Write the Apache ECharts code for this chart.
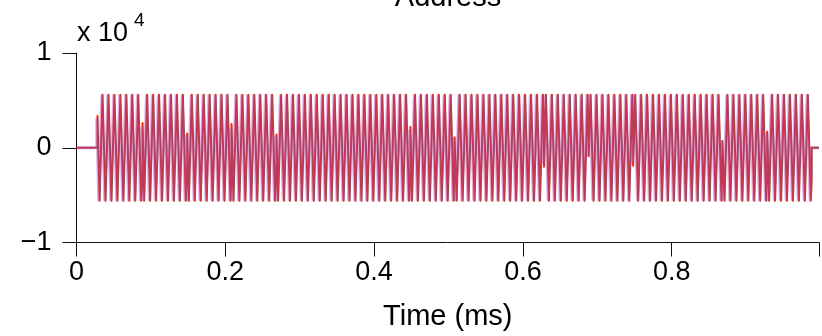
<!DOCTYPE html>
<html><head><meta charset="utf-8">
<script src="https://cdn.jsdelivr.net/npm/echarts@6/dist/echarts.min.js"></script>
<style>html,body{margin:0;padding:0;background:#fff}#c{width:822px;height:336px}</style>
</head><body><div id="c"></div>
<script>
// ---- data (time in ms, value in raw units; axis shows x 10^4) ----
const xTicks = [0, 0.2, 0.4, 0.6, 0.8];
const yTicks = [-10000, 0, 10000];

// red trace: extrema times (one row per 0.06 ms symbol)
const redExtT = [
0.031,0.035,0.039,0.043,0.047,0.051,0.055,0.059,0.063,0.067,0.071,0.075,0.079,0.083,0.087,
0.091,0.095,0.099,0.103,0.107,0.111,0.115,0.119,0.123,0.127,0.131,0.135,0.139,0.143,0.147,
0.151,0.155,0.159,0.163,0.167,0.171,0.175,0.179,0.183,0.187,0.191,0.195,0.199,0.203,0.207,
0.211,0.215,0.219,0.223,0.227,0.231,0.235,0.239,0.243,0.247,0.251,0.255,0.259,0.263,0.267,
0.271,0.275,0.279,0.283,0.287,0.291,0.295,0.299,0.303,0.307,0.311,0.315,0.319,0.323,0.327,
0.331,0.335,0.339,0.343,0.347,0.351,0.355,0.359,0.363,0.367,0.371,0.375,0.379,0.383,0.387,
0.391,0.395,0.399,0.403,0.407,0.411,0.415,0.419,0.423,0.427,0.431,0.435,0.439,0.443,0.447,
0.451,0.455,0.459,0.463,0.467,0.471,0.475,0.479,0.483,0.487,0.491,0.495,0.499,0.503,0.507,
0.511,0.515,0.519,0.523,0.527,0.531,0.535,0.539,0.543,0.547,0.551,0.555,0.559,0.563,0.567,
0.571,0.575,0.579,0.583,0.587,0.591,0.595,0.599,0.603,0.607,0.611,0.615,0.619,0.623,0.627,
0.631,0.635,0.639,0.643,0.647,0.651,0.655,0.659,0.663,0.667,0.671,0.675,0.679,0.683,0.687,
0.691,0.695,0.699,0.703,0.707,0.711,0.715,0.719,0.723,0.727,0.731,0.735,0.739,0.743,0.747,
0.751,0.755,0.759,0.763,0.767,0.771,0.775,0.779,0.783,0.787,0.791,0.795,0.799,0.803,0.807,
0.811,0.815,0.819,0.823,0.827,0.831,0.835,0.839,0.843,0.847,0.851,0.855,0.859,0.863,0.867,
0.871,0.875,0.879,0.883,0.887,0.891,0.895,0.899,0.903,0.907,0.911,0.915,0.919,0.923,0.927,
0.931,0.935,0.939,0.943,0.947,0.951,0.955,0.959,0.963,0.967,0.971,0.975,0.979,0.983,0.987
];
const redExtV = [
-5600,5600,-5600,5600,-5600,5600,-5600,5600,-5600,5600,-5600,5600,-5600,5600,-5600,
-5600,5600,-5600,5600,-5600,5600,-5600,5600,-5600,5600,-5600,5600,-5600,5600,-5600,
-5600,5600,-5600,5600,-5600,5600,-5600,5600,-5600,5600,-5600,5600,-5600,5600,-5600,
-5600,5600,-5600,5600,-5600,5600,-5600,5600,-5600,5600,-5600,5600,-5600,5600,-5600,
-5600,5600,-5600,5600,-5600,5600,-5600,5600,-5600,5600,-5600,5600,-5600,5600,-5600,
5600,-5600,5600,-5600,5600,-5600,5600,-5600,5600,-5600,5600,-5600,5600,-5600,5600,
-5600,5600,-5600,5600,-5600,5600,-5600,5600,-5600,5600,-5600,5600,-5600,5600,-5600,
-5600,5600,-5600,5600,-5600,5600,-5600,5600,-5600,5600,-5600,5600,-5600,5600,-5600,
-5600,5600,-5600,5600,-5600,5600,-5600,5600,-5600,5600,-5600,5600,-5600,5600,-5600,
5600,-5600,5600,-5600,5600,-5600,5600,-5600,5600,-5600,5600,-5600,5600,-5600,5600,
5600,-5600,5600,-5600,5600,-5600,5600,-5600,5600,-5600,5600,-5600,5600,-5600,5600,
5600,-5600,5600,-5600,5600,-5600,5600,-5600,5600,-5600,5600,-5600,5600,-5600,5600,
5600,-5600,5600,-5600,5600,-5600,5600,-5600,5600,-5600,5600,-5600,5600,-5600,5600,
-5600,5600,-5600,5600,-5600,5600,-5600,5600,-5600,5600,-5600,5600,-5600,5600,-5600,
-5600,5600,-5600,5600,-5600,5600,-5600,5600,-5600,5600,-5600,5600,-5600,5600,-5600,
-5600,5600,-5600,5600,-5600,5600,-5600,5600,-5600,5600,-5600,5600,-5600,5600,-5600
];
// red phase jumps at symbol boundaries: time, value before, value after
const redJumpT    = [0.0888, 0.1488, 0.2084, 0.2688, 0.4488, 0.5082, 0.6284, 0.6884, 0.7482, 0.8682, 0.9284];
const redJumpPre  = [-2600, -1500, -2500, -1400, -2200, -1100,  2000,   900,  1900,  -700, -1700];
const redJumpPost = [ 2600,  1500,  2500,  1400,  2200,  1100, -2000,  -900, -1900,   700,  1700];
// red lead-in and tail (flat zero outside the burst)
const redLeadT = [0, 0.0282, 0.0282];
const redLeadV = [0, 0, 3350];
const redTailT = [0.9882, 0.9882, 0.998];
const redTailV = [-3300, 0, 0];

// blue (translucent) trace: extrema times and values
const blueExtT = [
0.030,0.034,0.038,0.042,0.046,0.050,0.054,0.058,0.062,0.066,0.070,0.074,0.078,0.082,0.086,
0.090,0.094,0.098,0.102,0.106,0.110,0.114,0.118,0.122,0.126,0.130,0.134,0.138,0.142,0.146,
0.150,0.154,0.158,0.162,0.166,0.170,0.174,0.178,0.182,0.186,0.190,0.194,0.198,0.202,0.206,
0.210,0.214,0.218,0.222,0.226,0.230,0.234,0.238,0.242,0.246,0.250,0.254,0.258,0.262,0.266,
0.270,0.274,0.278,0.282,0.286,0.290,0.294,0.298,0.302,0.306,0.310,0.314,0.318,0.322,0.326,
0.330,0.334,0.338,0.342,0.346,0.350,0.354,0.358,0.362,0.366,0.370,0.374,0.378,0.382,0.386,
0.390,0.394,0.398,0.402,0.406,0.410,0.414,0.418,0.422,0.426,0.430,0.434,0.438,0.442,0.446,
0.450,0.454,0.458,0.462,0.466,0.470,0.474,0.478,0.482,0.486,0.490,0.494,0.498,0.502,0.506,
0.510,0.514,0.518,0.522,0.526,0.530,0.534,0.538,0.542,0.546,0.550,0.554,0.558,0.562,0.566,
0.570,0.574,0.578,0.582,0.586,0.590,0.594,0.598,0.602,0.606,0.610,0.614,0.618,0.622,0.626,
0.630,0.634,0.638,0.642,0.646,0.650,0.654,0.658,0.662,0.666,0.670,0.674,0.678,0.682,0.686,
0.690,0.694,0.698,0.702,0.706,0.710,0.714,0.718,0.722,0.726,0.730,0.734,0.738,0.742,0.746,
0.750,0.754,0.758,0.762,0.766,0.770,0.774,0.778,0.782,0.786,0.790,0.794,0.798,0.802,0.806,
0.810,0.814,0.818,0.822,0.826,0.830,0.834,0.838,0.842,0.846,0.850,0.854,0.858,0.862,0.866,
0.870,0.874,0.878,0.882,0.886,0.890,0.894,0.898,0.902,0.906,0.910,0.914,0.918,0.922,0.926,
0.930,0.934,0.938,0.942,0.946,0.950,0.954,0.958,0.962,0.966,0.970,0.974,0.978,0.982,0.986
];
const blueExtV = [
-5500,5500,-5500,5500,-5500,5500,-5500,5500,-5500,5500,-5500,5500,-5500,5500,-5500,
-5500,5500,-5500,5500,-5500,5500,-5500,5500,-5500,5500,-5500,5500,-5500,5500,-5500,
-5500,5500,-5500,5500,-5500,5500,-5500,5500,-5500,5500,-5500,5500,-5500,5500,-5500,
-5500,5500,-5500,5500,-5500,5500,-5500,5500,-5500,5500,-5500,5500,-5500,5500,-5500,
-5500,5500,-5500,5500,-5500,5500,-5500,5500,-5500,5500,-5500,5500,-5500,5500,-5500,
5500,-5500,5500,-5500,5500,-5500,5500,-5500,5500,-5500,5500,-5500,5500,-5500,5500,
-5500,5500,-5500,5500,-5500,5500,-5500,5500,-5500,5500,-5500,5500,-5500,5500,-5500,
-5500,5500,-5500,5500,-5500,5500,-5500,5500,-5500,5500,-5500,5500,-5500,5500,-5500,
-5500,5500,-5500,5500,-5500,5500,-5500,5500,-5500,5500,-5500,5500,-5500,5500,-5500,
5500,-5500,5500,-5500,5500,-5500,5500,-5500,5500,-5500,5500,-5500,5500,-5500,5500,
5500,-5500,5500,-5500,5500,-5500,5500,-5500,5500,-5500,5500,-5500,5500,-5500,5500,
5500,-5500,5500,-5500,5500,-5500,5500,-5500,5500,-5500,5500,-5500,5500,-5500,5500,
5500,-5500,5500,-5500,5500,-5500,5500,-5500,5500,-5500,5500,-5500,5500,-5500,5500,
-5500,5500,-5500,5500,-5500,5500,-5500,5500,-5500,5500,-5500,5500,-5500,5500,-5500,
-5500,5500,-5500,5500,-5500,5500,-5500,5500,-5500,5500,-5500,5500,-5500,5500,-5500,
-5500,5500,-5500,5500,-5500,5500,-5500,5500,-5500,5500,-5500,5500,-5500,5500,-5500
];
const blueMidT = [0.0878, 0.1478, 0.2074, 0.2678, 0.4478, 0.5072, 0.6274, 0.6874, 0.7472, 0.8672, 0.9274];
const blueMidV = [ 2100,   1200,   2000,   1100,   1800,    900,  -1600,   -700,  -1500,    600,   1400];
const blueLeadT = [0, 0.0272, 0.0272];
const blueLeadV = [0, 0, 3000];
const blueTailT = [0.9872, 0.9872, 0.998];
const blueTailV = [-3000, 0, 0];

// ---- assemble point lists (stable sort keeps equal-time pairs in order) ----
function zip(t, v) { return t.map((x, i) => [x, v[i]]); }
const redPts = [].concat(
  zip(redLeadT, redLeadV),
  zip(redExtT, redExtV),
  [].concat(...redJumpT.map((t, i) => [[t, redJumpPre[i]], [t, redJumpPost[i]]])),
  zip(redTailT, redTailV)
).sort((a, b) => a[0] - b[0]);
const bluePts = [].concat(
  zip(blueLeadT, blueLeadV),
  zip(blueExtT, blueExtV),
  zip(blueMidT, blueMidV),
  zip(blueTailT, blueTailV)
).sort((a, b) => a[0] - b[0]);

const FONT = "'Liberation Sans', Arial, Helvetica, sans-serif";
const chart = echarts.init(document.getElementById('c'), null, {renderer: 'canvas'});
chart.setOption({
  animation: false,
  backgroundColor: '#fff',
  grid: {left: 76.5, top: 53, width: 743.5, height: 192, containLabel: false},
  xAxis: {
    type: 'value', min: 0, max: 0.998, interval: 0.2,
    axisLine: {onZero: false, lineStyle: {color: '#111', width: 1}},
    axisTick: {length: 14, inside: false, lineStyle: {color: '#111', width: 1}},
    splitLine: {show: false},
    axisLabel: {fontSize: 27, color: '#000', fontFamily: FONT, margin: 17,
      formatter: v => xTicks.indexOf(Math.round(v * 10) / 10) >= 0 ? String(Math.round(v * 10) / 10) : ''},
    name: 'Time (ms)', nameLocation: 'middle', nameGap: 74,
    nameTextStyle: {fontSize: 29, color: '#000', fontFamily: FONT, verticalAlign: 'middle'}
  },
  yAxis: {
    type: 'value', min: yTicks[0], max: yTicks[2], interval: 10000,
    axisLine: {onZero: false, lineStyle: {color: '#111', width: 1}},
    axisTick: {length: 14, inside: false, lineStyle: {color: '#111', width: 1}},
    splitLine: {show: false},
    axisLabel: {fontSize: 27, color: '#000', fontFamily: FONT, margin: 25,
      formatter: v => v < 0 ? '\u2212' + (-v / 10000) : String(v / 10000)}
  },
  graphic: [
    {type: 'text', x: 448, y: -2, style: {text: 'Address', font: '29px ' + FONT, fill: '#000', textAlign: 'center', textVerticalAlign: 'middle'}},
    {type: 'text', x: 77, y: 34, style: {text: 'x 10', font: '27px ' + FONT, fill: '#000', textAlign: 'left', textVerticalAlign: 'middle'}},
    {type: 'text', x: 134, y: 21, style: {text: '4', font: '19px ' + FONT, fill: '#000', textAlign: 'left', textVerticalAlign: 'middle'}}
  ],
  series: [
    {type: 'line', data: redPts, showSymbol: false, silent: true, clip: false,
      lineStyle: {color: '#ff2200', width: 2, join: 'round'}},
    {type: 'line', data: bluePts, showSymbol: false, silent: true, clip: false,
      lineStyle: {color: 'rgba(100,90,220,0.4)', width: 3, join: 'round'}}
  ]
});
</script></body></html>
